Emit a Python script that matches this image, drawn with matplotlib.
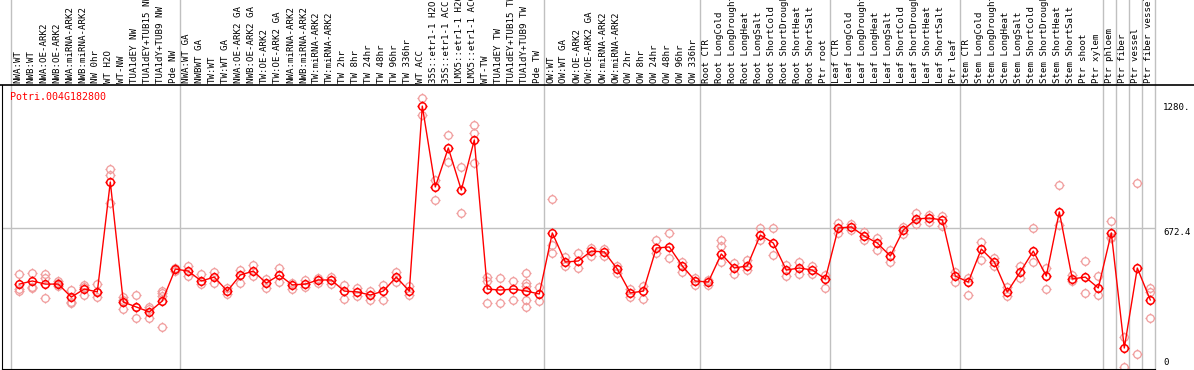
import matplotlib
matplotlib.use("Agg")
import matplotlib.pyplot as plt
import matplotlib.transforms as mtransforms
from matplotlib.path import Path
from matplotlib.lines import Line2D
import numpy as np

gene = "Potri.004G182800"

labels = [
    "NWA:WT", "NWB:WT", "NWA:OE-ARK2", "NWB:OE-ARK2", "NWA:miRNA-ARK2", "NWB:miRNA-ARK2",
    "NW 0hr", "WT H2O", "WT-NW", "TUA1dEY NW", "TUA1dEY+TUB15 NW", "TUA1dY+TUB9 NW", "Pde NW",
    "NWA:WT GA", "NWBWT GA", "TW:WT", "TW:WT GA", "NWA:OE-ARK2 GA", "NWB:OE-ARK2 GA",
    "TW:OE-ARK2", "TW:OE-ARK2 GA", "NWA:miRNA-ARK2", "NWB:miRNA-ARK2", "TW:miRNA-ARK2",
    "TW:miRNA-ARK2", "TW 2hr", "TW 8hr", "TW 24hr", "TW 48hr", "TW 96hr", "TW 336hr",
    "WT ACC", "35S::etr1-1 H2O", "35S::etr1-1 ACC", "LMX5::etr1-1 H2O", "LMX5::etr1-1 ACC",
    "WT-TW", "TUA1dEY TW", "TUA1dEY+TUB15 TW", "TUA1dY+TUB9 TW", "Pde TW",
    "OW:WT", "OW:WT GA", "OW:OE-ARK2", "OW:OE-ARK2 GA", "OW:miRNA-ARK2", "OW:miRNA-ARK2",
    "OW 2hr", "OW 8hr", "OW 24hr", "OW 48hr", "OW 96hr", "OW 336hr",
    "Root CTR", "Root LongCold", "Root LongDrought", "Root LongHeat", "Root LongSalt",
    "Root ShortCold", "Root ShortDrought", "Root ShortHeat", "Root ShortSalt", "Ptr root",
    "Leaf CTR", "Leaf LongCold", "Leaf LongDrought", "Leaf LongHeat", "Leaf LongSalt",
    "Leaf ShortCold", "Leaf ShortDrought", "Leaf ShortHeat", "Leaf ShortSalt", "Ptr leaf",
    "Stem CTR", "Stem LongCold", "Stem LongDrought", "Stem LongHeat", "Stem LongSalt",
    "Stem ShortCold", "Stem ShortDrought", "Stem ShortHeat", "Stem ShortSalt",
    "Ptr shoot", "Ptr xylem", "Ptr phloem", "Ptr fiber", "Ptr vessel", "Ptr fiber vessel",
]

means = [
    402, 417, 402, 402, 339, 378, 364, 897, 315, 291, 267, 320, 475,
    465, 417, 436, 368, 446, 465, 407, 446, 398, 402, 422, 422, 368, 364, 349, 368, 436, 368,
    1265, 873, 1062, 858, 1101, 378, 373, 378, 368, 354,
    650, 509, 514, 562, 558, 475, 359, 368, 577, 582, 490, 417,
    412, 548, 480, 490, 640, 601, 470, 480, 470, 427,
    674, 679, 635, 601, 538, 664, 718, 722, 713, 441,
    412, 572, 509, 364, 461, 562, 441, 752, 427, 436, 383,
    650, 92, 480, 325,
]

replicates = [
    [451, 378, 368], [456, 388, 383], [451, 432, 335], [417, 407, 393], [373, 315, 310],
    [398, 388, 349], [402, 364, 339], [960, 931, 795], [339, 325, 281], [349, 291, 238],
    [291, 281, 238], [368, 359, 344, 194], [480, 475, 465],
    [490, 441], [451, 402], [461, 407], [383, 354], [470, 407], [495, 441], [427, 383],
    [480, 412], [407, 378], [422, 388], [432, 407], [436, 402], [398, 330], [383, 344],
    [368, 325], [398, 325], [461, 412], [393, 349],
    [1304, 1222], [907, 810], [1125, 994], [970, 747], [1173, 1135, 989],
    [436, 417, 310], [432, 310], [417, 325], [456, 407, 393, 325, 291], [388, 320],
    [815, 592, 553], [533, 490], [553, 480], [577, 538], [572, 538], [490, 456],
    [378, 339], [393, 330], [616, 553], [650, 528], [509, 461], [432, 398],
    [422, 398], [616, 587, 509], [504, 451], [519, 470], [674, 616], [674, 543],
    [495, 441], [509, 451], [490, 451], [446, 383],
    [698, 650], [693, 664], [655, 616], [625, 567], [567, 509], [679, 645],
    [747, 693], [737, 703], [732, 684], [461, 412],
    [432, 349], [606, 519], [528, 490], [388, 344], [490, 432], [674, 509],
    [480, 378], [882, 689], [446, 417], [514, 359], [441, 349],
    [708, 630, 625], [145, 0], [892, 63], [383, 364, 238],
]

group_starts = [0, 13, 41, 53, 63, 73, 84, 85, 86, 87, 88]
yticks = [0, 672.4, 1280]
ytick_labels = ["0", "672.4", "1280."]

RED = "#ff0000"
PINK = "#f09c9c"
MONO = "DejaVu Sans Mono"


def ring_marker():
    # circle with four short spikes, like the little crosshair rings of the original
    circ = Path.unit_circle()
    spikes = []
    for dx, dy in [(1, 0), (-1, 0), (0, 1), (0, -1)]:
        spikes.append(Path([(dx * 1.0, dy * 1.0), (dx * 1.35, dy * 1.35)],
                           [Path.MOVETO, Path.LINETO]))
    return Path.make_compound_path(circ, *spikes)


W, H = 1194, 370
fig = plt.figure(figsize=(W / 100, H / 100), dpi=100)
left_px, right_px, top_px, bot_px = 1.7, 1155.3, 85, 369
ax = fig.add_axes([left_px / W, (H - bot_px) / H, (right_px - left_px) / W, (bot_px - top_px) / H])

x = np.arange(len(labels))
ax.set_xlim((left_px - 19.3) / 13, (right_px - 19.3) / 13)
ax.set_ylim((367 - bot_px) / 0.20625, (367 - top_px) / 0.20625)

# group separators, running up through the label band
for g in group_starts:
    ax.axvline(g - 0.62, ymin=0, ymax=(bot_px) / (bot_px - top_px), color="#c0c0c0",
               lw=1.0, clip_on=False, zorder=0)
ax.axhline(672.4, color="#c0c0c0", lw=1.0, zorder=0)

marker = ring_marker()
for i, reps in enumerate(replicates):
    ax.plot([i] * len(reps), reps, linestyle="none", marker=marker, ms=7.3,
            mfc="none", mec=PINK, mew=0.9, zorder=2, clip_on=False)
ax.plot(x, means, color=RED, lw=1.0, zorder=3)
ax.plot(x, means, linestyle="none", marker=marker, ms=7.3, mfc="none", mec=RED,
        mew=1.1, zorder=4)

# rotated sample labels above the plot
lab_tr = mtransforms.blended_transform_factory(ax.transData, ax.transAxes) + \
    mtransforms.ScaledTranslation(-1.5 / 100, 2 / 100, fig.dpi_scale_trans)
for i, lab in enumerate(labels):
    ax.text(i, 1.0, lab, rotation=90, ha="center", va="bottom", fontsize=6.6,
            family=MONO, transform=lab_tr, clip_on=False)

# value labels on the right
ytr = mtransforms.blended_transform_factory(fig.transFigure, ax.transData)
for v, s in zip(yticks, ytick_labels):
    ax.text(1163 / W, v, s, ha="left", va="bottom" if v == 0 else "top",
            fontsize=6.6, family=MONO, transform=ytr)

ax.text(10 / W, 1.0 - 12 / 284, gene, transform=mtransforms.blended_transform_factory(fig.transFigure, ax.transAxes),
        color=RED, fontsize=7.2, family=MONO, ha="left", va="center")

ax.set_xticks([])
ax.set_yticks([])
for side in ["top", "right"]:
    ax.spines[side].set_visible(False)
ax.spines["left"].set_color("black")
ax.spines["bottom"].set_color("black")

# black rule under the label band, spanning the full width
fig.add_artist(Line2D([0, 1], [(H - top_px) / H] * 2, color="black", lw=1.2,
                      transform=fig.transFigure))

fig.savefig("out.png", dpi=100, facecolor="white")
